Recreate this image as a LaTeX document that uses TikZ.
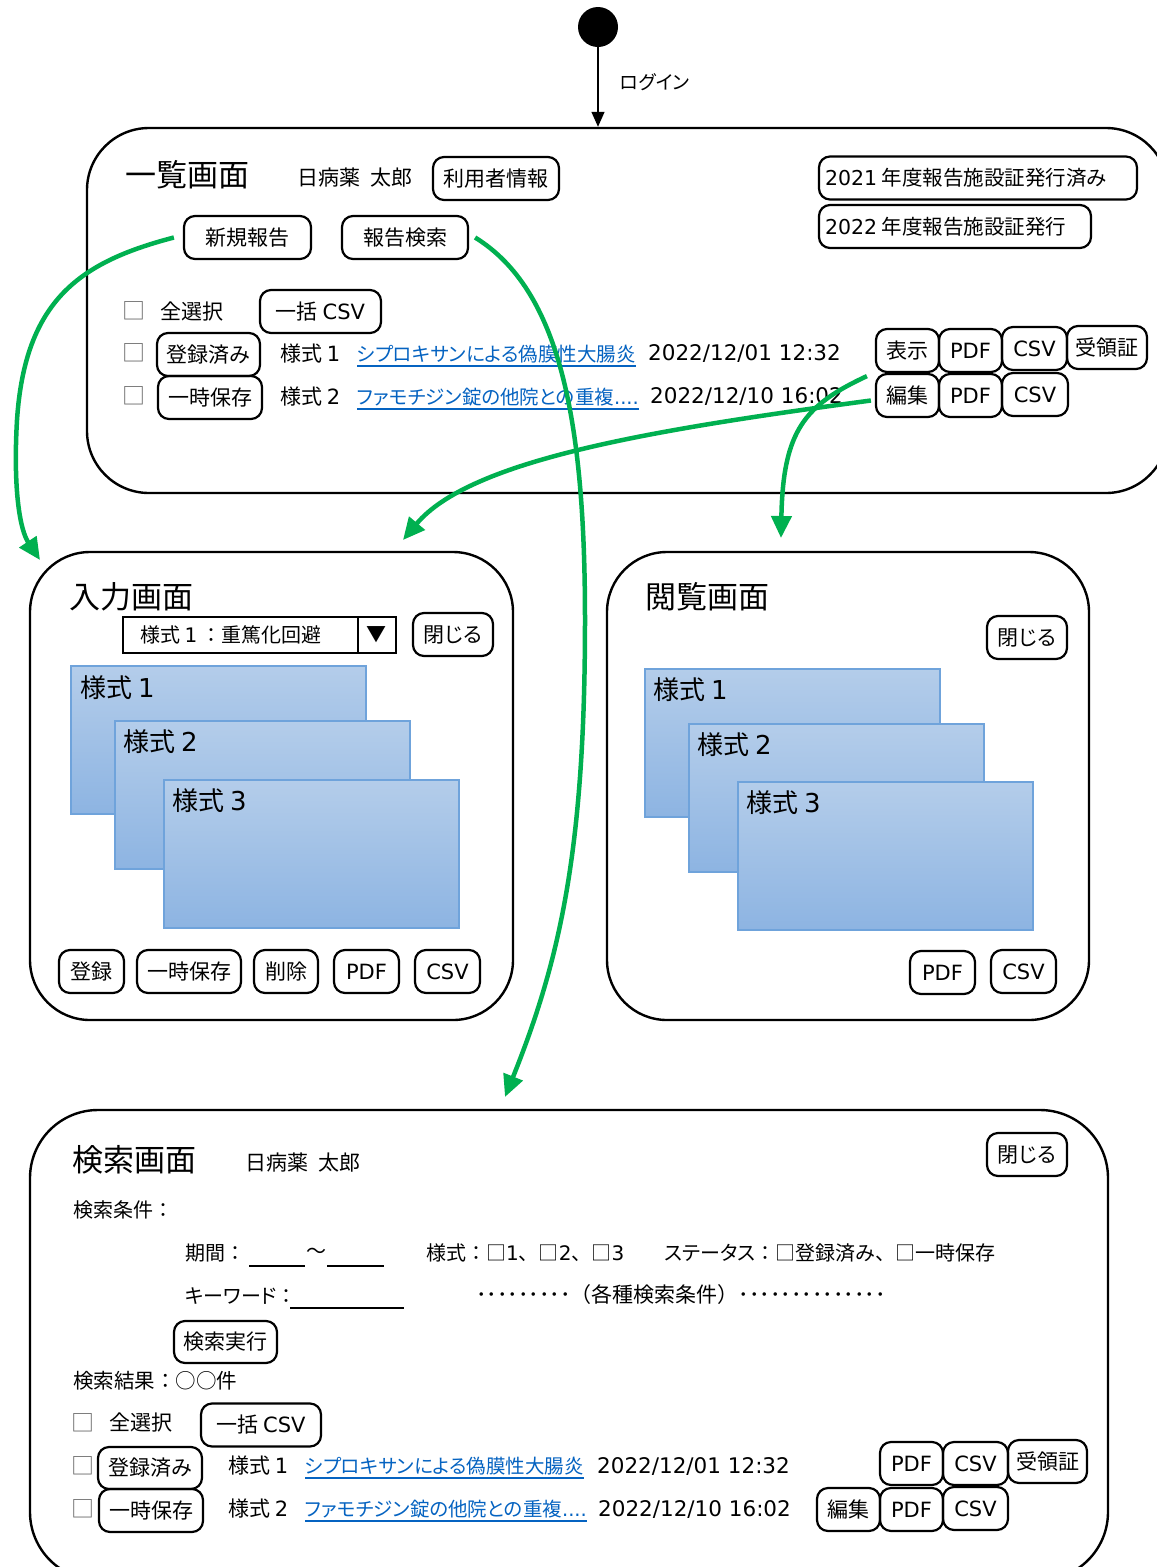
\documentclass[tikz,border=0pt]{standalone}
\usepackage{fontspec}
\setmainfont{Noto Sans CJK JP}
\newfontfamily\lat{DejaVu Sans}
\newfontfamily\jpp{Noto Sans CJK JP}[RawFeature=+palt]
\usetikzlibrary{arrows.meta}
\definecolor{grn}{HTML}{00B050}
\definecolor{linkblue}{HTML}{0563C1}
\definecolor{shtop}{HTML}{B4CDEA}
\definecolor{shbot}{HTML}{8DB4E2}
\definecolor{shline}{HTML}{6FA3DB}
\newcommand\myfs[1]{\fontsize{#1pt}{#1pt}\selectfont}
\newcommand\LL[1]{{\lat #1}}
\newcommand\PP[1]{{\jpp #1}}
\begin{document}
\begin{tikzpicture}[x=1pt,y=-1pt,
  screenbox/.style={draw, line width=2.4pt, rounded corners=#1, inner sep=0pt},
  btn/.style={draw, line width=2.2pt, rounded corners=11pt, inner sep=0pt, minimum height=43pt, font=\myfs{21}},
  txt/.style={anchor=west, inner sep=0pt, font=\myfs{#1}},
  ttl/.style={anchor=west, inner sep=0pt, font=\myfs{31}},
  chk/.style={inner sep=0pt, font=\myfs{23}, text=black!60},
  linktext/.style={anchor=west, inner sep=0pt, font=\myfs{19.5}\jpp, text=linkblue},
  uline/.style={draw=linkblue, line width=1.8pt},
  formsheet/.style={draw=shline, line width=1.5pt, top color=shtop, bottom color=shbot, anchor=north west, minimum width=295pt, minimum height=148pt, inner sep=0pt},
  shl/.style={anchor=west, inner sep=0pt, font=\myfs{26}},
  garrow/.style={draw=grn, line width=4.5pt, -{Triangle[length=22pt,width=20pt]}},
  fieldline/.style={draw, line width=1.8pt},
  datetext/.style={anchor=west, inner sep=0pt, font=\myfs{21.5}\lat}
]
\useasboundingbox (0,0) rectangle (1157,1567);
\fill[white] (0,0) rectangle (1157,1567);

% ---------- frames ----------
\node[screenbox=62pt, minimum width=1081pt, minimum height=365pt] (list) at (627.5,310.5) {};
\node[screenbox=60pt, minimum width=483pt, minimum height=468pt] (inbox) at (271.5,786) {};
\node[screenbox=60pt, minimum width=482pt, minimum height=468pt] (viewbox) at (848,786) {};
\node[screenbox=68pt, minimum width=1078pt, minimum height=470pt] (sbox) at (569,1345) {};

% ---------- start ----------
\node[circle, fill=black, minimum size=40pt, inner sep=0pt] (start) at (598,27) {};
\draw[line width=1.4pt, -{Triangle[length=15pt,width=13pt]}] (start) -- (start |- list.north);
\node[txt=19] (login) at (620,82) {\PP{ログイン}};

% ---------- list screen ----------
\node[ttl] (t1) at (125,175) {一覧画面};
\node[txt=21] (user1) at (297,178) {日病薬\hspace{0.5em}太郎};
\node[btn, minimum width=126pt] (uinfo) at (496,178.5) {利用者情報};
\node[btn, minimum width=318pt, font=\myfs{20.5}] (y2021) at (978,178) {\makebox[306pt][l]{\LL{2021} 年度報告施設証発行済み}};
\node[btn, minimum width=272pt, font=\myfs{20.5}] (y2022) at (955,226.5) {\makebox[260pt][l]{\LL{2022} 年度報告施設証発行}};
\node[btn, minimum width=127pt] (newrep) at (247.5,237.5) {新規報告};
\node[btn, minimum width=126pt] (srch) at (405,237.5) {報告検索};

\node[chk] (c0) at (134,311) {□};
\node[txt=21] (all1) at (160,312) {全選択};
\node[btn, minimum width=121pt] (bulk1) at (320.5,311.5) {一括 \LL{CSV}};

\node[chk] (c1) at (134,353) {□};
\node[btn, minimum width=103pt] (reg1) at (208.5,354.5) {登録済\PP{み}};
\node[txt=21] (f1) at (280,354) {様式 \LL{1}};
\node[linktext] (lk1) at (357,354) {シプロキサンによる偽膜性大腸炎};
\draw[uline] ([yshift=-2.5pt]lk1.south west) -- ([yshift=-2.5pt]lk1.south east);
\node[datetext] (d1) at (648,354) {2022/12/01 12:32};
\node[btn, minimum width=63pt] (show1) at (907.5,350.5) {表示};
\node[btn, minimum width=63pt] (pdf1) at (970.5,350.5) {\LL{PDF}};
\node[btn, minimum width=65pt] (csv1) at (1034.5,348.5) {\LL{CSV}};
\node[btn, minimum width=80pt] (rcpt1) at (1107,347.5) {受領証};

\node[chk] (c2) at (134,396) {□};
\node[btn, minimum width=104pt] (tmp1) at (210,397.5) {一時保存};
\node[txt=21] (f2) at (280,397) {様式 \LL{2}};
\node[linktext] (lk2) at (357,397) {ファモチジン錠の他院との重複\LL{....}};
\draw[uline] ([yshift=-2.5pt]lk2.south west) -- ([yshift=-2.5pt]lk2.south east);
\node[datetext] (d2) at (650,397) {2022/12/10 16:02};
\node[btn, minimum width=63pt] (edit1) at (907.5,395.5) {編集};
\node[btn, minimum width=63pt] (pdf2) at (970.5,395.5) {\LL{PDF}};
\node[btn, minimum width=66pt] (csv2) at (1035,394.5) {\LL{CSV}};

% ---------- input screen ----------
\node[ttl] (t2) at (69,597) {入力画面};
\node[draw, line width=2pt, minimum width=273pt, minimum height=36pt, inner sep=0pt] (dd) at (259.5,635) {};
\draw[line width=2pt] ([xshift=-39pt]dd.north east) -- ([xshift=-39pt]dd.south east);
\node[txt=20] (ddt) at (140,635) {様式 \LL{1} ：重篤化回避};
\node[inner sep=0pt, font=\myfs{20}] (ddarr) at (376.5,635) {▼};
\node[btn, minimum width=80pt] (close1) at (453,634.5) {\PP{閉じる}};

\node[formsheet] (is1) at (70,665) {};
\node[shl] (is1l) at (80,688) {様式 \LL{1}};
\node[formsheet] (is2) at (114,720) {};
\node[shl] (is2l) at (123,742) {様式 \LL{2}};
\node[formsheet] (is3) at (163,779) {};
\node[shl] (is3l) at (172,801) {様式 \LL{3}};

\node[btn, minimum width=65pt] (reg2) at (91.5,971.5) {登録};
\node[btn, minimum width=104pt] (tmp2) at (189,971.5) {一時保存};
\node[btn, minimum width=64pt] (del2) at (286,971.5) {削除};
\node[btn, minimum width=65pt] (pdf3) at (366.5,971.5) {\LL{PDF}};
\node[btn, minimum width=65pt] (csv3) at (447.5,971.5) {\LL{CSV}};

% ---------- view screen ----------
\node[ttl] (t3) at (645,597) {閲覧画面};
\node[btn, minimum width=80pt] (close2) at (1027,637.5) {\PP{閉じる}};
\node[formsheet] (vs1) at (644,668) {};
\node[shl] (vs1l) at (653,690) {様式 \LL{1}};
\node[formsheet] (vs2) at (688,723) {};
\node[shl] (vs2l) at (697,745) {様式 \LL{2}};
\node[formsheet] (vs3) at (737,781) {};
\node[shl] (vs3l) at (746,803) {様式 \LL{3}};
\node[btn, minimum width=65pt] (pdf4) at (942.5,972.5) {\LL{PDF}};
\node[btn, minimum width=65pt] (csv4) at (1023.5,971.5) {\LL{CSV}};

% ---------- search screen ----------
\node[ttl] (t4) at (72,1160) {検索画面};
\node[txt=21] (user2) at (245,1163) {日病薬\hspace{0.5em}太郎};
\node[btn, minimum width=80pt] (close3) at (1027,1154.5) {\PP{閉じる}};
\node[txt=20] (cond) at (73,1210) {検索条件：};
\node[txt=20] (period) at (185,1253) {期間：};
\coordinate (p1a) at (249,1266); \coordinate (p1b) at (305,1266);
\draw[fieldline] (p1a) -- (p1b);
\node[inner sep=0pt, font=\myfs{20}] (tilde) at (316,1253) {～};
\coordinate (p2a) at (327,1266); \coordinate (p2b) at (384,1266);
\draw[fieldline] (p2a) -- (p2b);
\node[txt=20] (form) at (426,1253) {様式：□\LL{1}、□\LL{2}、□\LL{3}};
\node[txt=20] (status) at (664,1253) {\PP{ステータス}：□登録済\PP{み}、□一時保存};
\node[txt=20] (kw) at (185,1296) {\PP{キーワード}：};
\coordinate (kwa) at (290,1308); \coordinate (kwb) at (404,1308);
\draw[fieldline] (kwa) -- (kwb);
\node[txt=21] (misc) at (476,1295) {･････････（各種検索条件）･･････････････};
\node[btn, minimum width=103pt, minimum height=42pt] (exec) at (225.5,1342) {検索実行};
\node[txt=20.5] (res) at (73,1381) {検索結果：○○件};

\node[chk] (c3) at (83,1423) {□};
\node[txt=21] (all2) at (109,1423) {全選択};
\node[btn, minimum width=120pt] (bulk2) at (261,1425) {一括 \LL{CSV}};

\node[chk] (c4) at (83,1466) {□};
\node[btn, minimum width=104pt, minimum height=42pt] (reg3) at (150,1468) {登録済\PP{み}};
\node[txt=21] (f3) at (228,1466) {様式 \LL{1}};
\node[linktext] (lk3) at (305,1466) {シプロキサンによる偽膜性大腸炎};
\draw[uline] ([yshift=-2.5pt]lk3.south west) -- ([yshift=-2.5pt]lk3.south east);
\node[datetext] (d3) at (597,1466) {2022/12/01 12:32};
\node[btn, minimum width=63pt] (pdf5) at (911.5,1463.5) {\LL{PDF}};
\node[btn, minimum width=65pt] (csv5) at (975.5,1463.5) {\LL{CSV}};
\node[btn, minimum width=79pt] (rcpt2) at (1047.5,1461.5) {受領証};

\node[chk] (c5) at (83,1509) {□};
\node[btn, minimum width=104pt] (tmp3) at (151,1510.5) {一時保存};
\node[txt=21] (f4) at (228,1509) {様式 \LL{2}};
\node[linktext] (lk4) at (305,1509) {ファモチジン錠の他院との重複\LL{....}};
\draw[uline] ([yshift=-2.5pt]lk4.south west) -- ([yshift=-2.5pt]lk4.south east);
\node[datetext] (d4) at (598,1509) {2022/12/10 16:02};
\node[btn, minimum width=63pt] (edit2) at (848.5,1509.5) {編集};
\node[btn, minimum width=63pt] (pdf6) at (911.5,1509.5) {\LL{PDF}};
\node[btn, minimum width=65pt] (csv6) at (975.5,1508.5) {\LL{CSV}};

% ---------- green transitions ----------
\coordinate (tipIn) at (40,560);
\coordinate (tipS) at (505,1097);
\coordinate (tipV) at (781,538);
\coordinate (tipE) at (403,540);
\draw[garrow] ([xshift=-9pt]newrep.west) .. controls (80,262) and (25,300) .. (17,420) .. controls (13,490) and (20,530) .. (tipIn);
\draw[garrow] ([xshift=6pt]srch.east) .. controls (560,290) and (585,420) .. (585,620) .. controls (585,850) and (560,960) .. (tipS);
\draw[garrow] ([shift={(-8pt,-3pt)}]show1.south west) .. controls (805,405) and (783,430) .. (tipV);
\draw[garrow] ([xshift=-4pt,yshift=-5pt]edit1.west) .. controls (650,430) and (470,460) .. (tipE);
\end{tikzpicture}
\end{document}
